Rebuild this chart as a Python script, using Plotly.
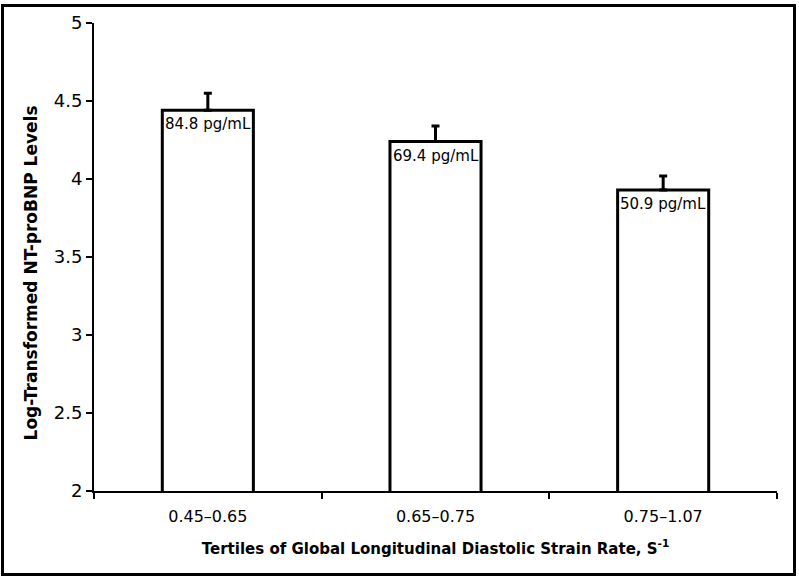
import plotly.graph_objects as go

# tertiles of strain rate and log-transformed NT-proBNP
categories = ["0.45\u20130.65", "0.65\u20130.75", "0.75\u20131.07"]
log_values = [4.44, 4.24, 3.93]
error_up = [0.11, 0.10, 0.09]
bar_labels = ["84.8 pg/mL", "69.4 pg/mL", "50.9 pg/mL"]
y_ticks = [2, 2.5, 3, 3.5, 4, 4.5, 5]

FONT = "DejaVu Sans, Verdana, sans-serif"
L, R, T, B = 94, 22, 20, 88
W, H = 799, 579
pw, ph = W - L - R, H - T - B

fig = go.Figure(
    go.Bar(
        x=categories,
        y=log_values,
        width=0.4,
        marker=dict(color="white", line=dict(color="black", width=3)),
        error_y=dict(type="data", symmetric=False, array=error_up,
                     arrayminus=[0] * len(error_up),
                     color="black", thickness=3, width=4),
        base=0,
    )
)

for cat, val, lab in zip(categories, log_values, bar_labels):
    fig.add_annotation(x=cat, y=val, text=lab, showarrow=False,
                       yanchor="top", yshift=-3,
                       font=dict(family=FONT, size=15, color="black"))

# y title sits a little below the middle of the axis in the original
fig.add_annotation(xref="paper", yref="paper",
                   x=(31 - L) / pw, y=(H - B - 272) / ph,
                   text="<b>Log-Transformed NT-proBNP Levels</b>",
                   textangle=-90, showarrow=False,
                   xanchor="center", yanchor="middle",
                   font=dict(family=FONT, size=17, color="black"))

# frame around the whole picture
fig.add_shape(type="rect", xref="paper", yref="paper",
              x0=(2.5 - L) / pw, x1=(794.5 - L) / pw,
              y0=(H - B - 575) / ph, y1=(H - B - 2.5) / ph,
              line=dict(color="black", width=3))

fig.update_layout(
    width=W, height=H,
    margin=dict(l=L, r=R, t=T, b=B),
    paper_bgcolor="white", plot_bgcolor="white",
    showlegend=False,
    font=dict(family=FONT, color="black"),
    xaxis=dict(
        showline=True, linecolor="black", linewidth=2,
        ticks="outside", tickson="boundaries", ticklen=6, tickwidth=2,
        tickcolor="black", tickfont=dict(size=16), ticklabelstandoff=10,
        title=dict(text="<b>Tertiles of Global Longitudinal Diastolic Strain Rate, S<sup>-1</sup></b>",
                   font=dict(size=15), standoff=18),
    ),
    yaxis=dict(
        range=[2, 5], tickvals=y_ticks, ticktext=[f"{v:g}" for v in y_ticks],
        showline=True, linecolor="black", linewidth=2,
        ticks="outside", ticklen=6, tickwidth=2, tickcolor="black",
        showgrid=False, zeroline=False, tickfont=dict(size=18),
    ),
)

fig.write_html("out.html", config={"displayModeBar": False},
               post_script="document.body.style.margin='0';")
